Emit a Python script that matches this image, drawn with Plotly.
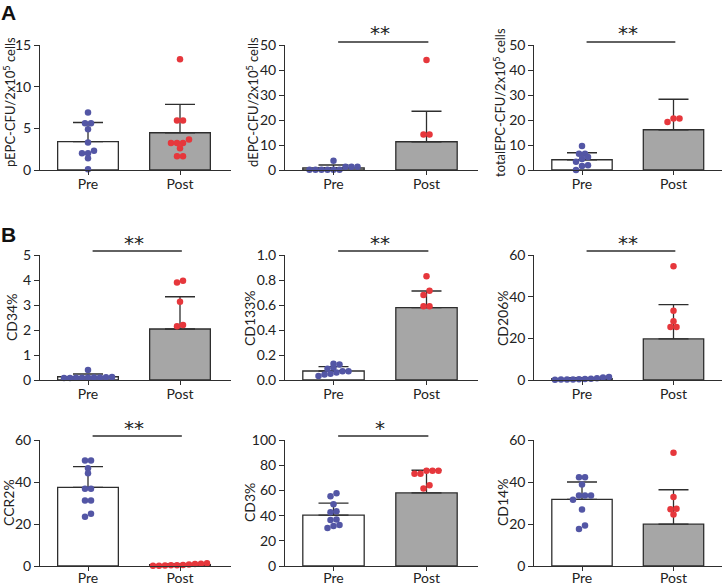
import plotly.graph_objects as go

W, H = 722, 586
groups = ["Pre", "Post"]

# ---------------- data ----------------
pepc_pre = [6.9, 5.6, 5.6, 4.9, 3.3, 2.3, 2.0, 2.0, 1.4, 0.1]
pepc_post = [13.3, 5.95, 5.95, 3.65, 3.25, 3.25, 3.25, 2.6, 1.65, 1.65]
pepc_mean = [3.4, 4.47]
pepc_sd = [2.3, 3.4]

depc_pre = [3.7, 1.3, 1.3, 1.3, 0.05, 0.05, 0.05, 0.05, 0.05, 0.05]
depc_post = [44.0, 14.2, 14.2]
depc_mean = [0.8, 11.3]
depc_sd = [1.2, 12.2]

tepc_pre = [9.6, 6.5, 6.5, 5.2, 4.4, 3.3, 1.9, 1.6, 0.0]
tepc_post = [20.6, 20.6, 19.2]
tepc_mean = [4.1, 16.1]
tepc_sd = [2.8, 12.2]

cd34_pre = [0.4, 0.12, 0.11, 0.1, 0.1, 0.1, 0.09, 0.09, 0.08, 0.08]
cd34_post = [3.97, 3.9, 3.13, 2.2, 2.15]
cd34_mean = [0.13, 2.04]
cd34_sd = [0.11, 1.29]

cd133_pre = [0.13, 0.125, 0.1, 0.09, 0.07, 0.07, 0.06, 0.05, 0.045, 0.032]
cd133_post = [0.83, 0.715, 0.68, 0.59, 0.59]
cd133_mean = [0.072, 0.579]
cd133_sd = [0.035, 0.133]

cd206_pre = [1.5, 1.2, 0.8, 0.6, 0.5, 0.4, 0.3, 0.2, 0.2, 0.1]
cd206_post = [54.6, 33.3, 28.2, 25.4, 25.4]
cd206_mean = [0.6, 19.7]
cd206_sd = [0.5, 16.5]

ccr2_pre = [50.2, 50.2, 46.5, 44.2, 36.8, 36.8, 31.2, 31.2, 24.9, 23.4]
ccr2_post = [1.3, 1.1, 0.9, 0.7, 0.5, 0.4, 0.3, 0.2, 0.1, 0.1]
ccr2_mean = [37.4, 0.6]
ccr2_sd = [9.9, 0.4]

cd3_pre = [57.7, 55.4, 49.0, 43.5, 42.7, 37.0, 36.5, 32.5, 31.8, 30.2]
cd3_post = [75.5, 75.5, 75.5, 73.3, 73.3, 64.0, 61.5]
cd3_mean = [40.3, 58.0]
cd3_sd = [9.6, 18.0]

cd14_pre = [42.3, 42.3, 38.8, 33.6, 33.6, 33.6, 31.5, 26.9, 19.3, 17.6]
cd14_post = [53.9, 32.8, 27.3, 27.0, 24.5]
cd14_mean = [31.7, 19.9]
cd14_sd = [8.3, 16.4]

y_titles = ["pEPC-CFU/2x10<sup>5</sup> cells", "dEPC-CFU/2x10<sup>5</sup> cells",
            "totalEPC-CFU/2x10<sup>5</sup> cells", "CD34%", "CD133%", "CD206%",
            "CCR2%", "CD3%", "CD14%"]
y_max = [15, 50, 50, 5, 1.0, 60, 60, 100, 60]
y_dtick = [5, 10, 10, 1, 0.2, 20, 20, 20, 20]
stars = ["", "**", "**", "**", "**", "**", "**", "*", ""]

panels = [
    (pepc_pre, pepc_post, pepc_mean, pepc_sd),
    (depc_pre, depc_post, depc_mean, depc_sd),
    (tepc_pre, tepc_post, tepc_mean, tepc_sd),
    (cd34_pre, cd34_post, cd34_mean, cd34_sd),
    (cd133_pre, cd133_post, cd133_mean, cd133_sd),
    (cd206_pre, cd206_post, cd206_mean, cd206_sd),
    (ccr2_pre, ccr2_post, ccr2_mean, ccr2_sd),
    (cd3_pre, cd3_post, cd3_mean, cd3_sd),
    (cd14_pre, cd14_post, cd14_mean, cd14_sd),
]

# ---------------- layout geometry (pixels) ----------------
pre_c = [88, 333.5, 582]
post_c = [180, 426.5, 673.5]
rows_px = [(45, 170), (255, 380), (440, 566)]
ytitle_x = [[9, 252, 499], [11, 249, 502], [8, 249, 502]]
ytitle_y = [102, 318, 503]
star_y = [33, 243, 428]
line_y = [42, 251, 436]
xlabel_standoff = [-3, -3, -5]

PRE_COL = "#5356a5"
POST_COL = "#e6373c"
BAR_COLS = ["#ffffff", "#a6a6a6"]
LINE_COL = "#2e2e2e"
FONT = "Lato, 'Open Sans', sans-serif"


def swarm(values, center, ppu_y, unit_x, d=6.0):
    order = sorted(range(len(values)), key=lambda i: values[i])
    xs = [center] * len(values)
    rows = []
    for i in order:
        if rows and (values[i] - values[rows[-1][0]]) * ppu_y < 0.8 * d:
            rows[-1].append(i)
        else:
            rows.append([i])
    for row in rows:
        n = len(row)
        for k, i in enumerate(row):
            xs[i] = center + (k - (n - 1) / 2) * d / unit_x
    return xs


fig = go.Figure()
layout = dict(width=W, height=H, margin=dict(l=0, r=0, t=0, b=0, autoexpand=False),
              plot_bgcolor="white", paper_bgcolor="white", showlegend=False,
              font=dict(family=FONT, color="#222", size=14))
annotations = []
shapes = []

for idx, (pre, post, mean, sd) in enumerate(panels):
    r, c = divmod(idx, 3)
    n = idx + 1
    xa = "x" if n == 1 else f"x{n}"
    ya = "y" if n == 1 else f"y{n}"
    unit = post_c[c] - pre_c[c]
    left_px = pre_c[c] - 0.52 * unit
    right_px = min(W, post_c[c] + 0.55 * unit)
    xr = [(left_px - pre_c[c]) / unit, (right_px - pre_c[c]) / unit]
    top, bot = rows_px[r]
    ppu = (bot - top) / y_max[idx]

    fig.add_trace(go.Bar(
        x=[0, 1], y=mean, width=0.66, xaxis=xa, yaxis=ya,
        marker=dict(color=BAR_COLS, line=dict(color=LINE_COL, width=1.3)),
        error_y=dict(type="data", symmetric=False, array=sd, arrayminus=[0, 0],
                     color=LINE_COL, thickness=1.3, width=15),
        hoverinfo="skip"))
    fig.add_trace(go.Scatter(
        x=swarm(pre, 0, ppu, unit), y=pre, mode="markers", xaxis=xa, yaxis=ya,
        marker=dict(color=PRE_COL, size=6.5), cliponaxis=False))
    fig.add_trace(go.Scatter(
        x=swarm(post, 1, ppu, unit), y=post, mode="markers", xaxis=xa, yaxis=ya,
        marker=dict(color=POST_COL, size=6.5), cliponaxis=False))

    axis_common = dict(showline=True, linecolor=LINE_COL, linewidth=1.3,
                       ticks="outside", tickcolor=LINE_COL, tickwidth=1.3,
                       showgrid=False, zeroline=False,
                       tickfont=dict(size=14, color="#222", family=FONT))
    layout["xaxis" if n == 1 else f"xaxis{n}"] = dict(
        axis_common, domain=[left_px / W, right_px / W], range=xr,
        tickvals=[0, 1], ticktext=groups, ticklen=4,
        ticklabelstandoff=xlabel_standoff[r], anchor=ya)
    layout["yaxis" if n == 1 else f"yaxis{n}"] = dict(
        axis_common, domain=[1 - bot / H, 1 - top / H], range=[0, y_max[idx]],
        dtick=y_dtick[idx], ticklen=5, anchor=xa,
        tickformat=".1f" if y_max[idx] == 1.0 else None)

    annotations.append(dict(
        x=ytitle_x[r][c] / W, y=1 - ytitle_y[r] / H, xref="paper", yref="paper",
        text=y_titles[idx], textangle=-90, showarrow=False,
        xanchor="center", yanchor="middle",
        font=dict(size=13 if r == 0 else 14, family=FONT, color="#222")))

    if stars[idx]:
        shapes.append(dict(type="line", xref=xa, yref="paper",
                           x0=0.05, x1=1.02, y0=1 - line_y[r] / H, y1=1 - line_y[r] / H,
                           line=dict(color=LINE_COL, width=1.3)))
        annotations.append(dict(
            x=0.5, y=1 - star_y[r] / H, xref=xa, yref="paper", text=stars[idx],
            showarrow=False, xanchor="center", yanchor="middle",
            font=dict(size=20, family="DejaVu Sans", color="#222")))

annotations.append(dict(x=8.5 / W, y=1 - 12.5 / H, xref="paper", yref="paper", text="<b>A</b>",
                        showarrow=False, xanchor="center", yanchor="middle",
                        font=dict(size=21, family="Liberation Sans, Arial", color="#111")))
annotations.append(dict(x=8.5 / W, y=1 - 234.5 / H, xref="paper", yref="paper", text="<b>B</b>",
                        showarrow=False, xanchor="center", yanchor="middle",
                        font=dict(size=21, family="Liberation Sans, Arial", color="#111")))

layout["annotations"] = annotations
layout["shapes"] = shapes
fig.update_layout(**layout)
fig.write_html("out.html", config={"displayModeBar": False},
               post_script="document.body.style.margin='0';document.body.style.overflow='hidden';")
